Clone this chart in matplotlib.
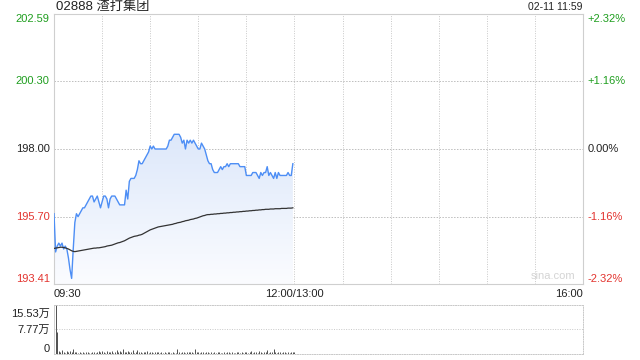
#!/usr/bin/env python3
"""Intraday time-share chart for 02888 (sina style) with volume panel"""

import numpy as np
import matplotlib
matplotlib.use('Agg')
import matplotlib.pyplot as plt

plt.rcParams['font.family'] = ['Liberation Sans', 'Noto Sans CJK SC', 'DejaVu Sans']

TITLE = '02888 渣打集团'
STAMP = '02-11 11:59'
PREV_CLOSE = 198.00

PRICE_TICKS = [193.41, 195.70, 198.00, 200.30, 202.59]
PCT_LABELS = ['-2.32%', '-1.16%', '0.00%', '+1.16%', '+2.32%']
TIME_LABELS = ['09:30', '12:00/13:00', '16:00']
TIME_POS = [0, 150, 330]  # minutes of trading
VOL_TICKS = [0, 7.77, 15.53]
VOL_LABELS = ['0', '7.77万', '15.53万']

# one value per trading minute from 09:30
PRICE = [
    195.8, 194.5, 194.7, 194.8, 194.7, 194.8, 194.6, 194.7, 194.6, 194.3,
    193.9, 193.6, 194.6, 195.5, 195.8, 195.7, 195.8, 195.9, 196.0, 196.0,
    196.1, 196.2, 196.3, 196.4, 196.4, 196.2, 196.3, 196.4, 196.2, 196.0,
    196.2, 196.4, 196.4, 196.3, 196.0, 196.3, 196.4, 196.4, 196.4, 196.3,
    196.2, 196.1, 196.1, 196.1, 196.1, 196.6, 196.3, 196.9, 197.0, 197.0,
    197.0, 197.1, 197.3, 197.6, 197.5, 197.5, 197.6, 197.7, 197.8, 197.9,
    198.1, 198.0, 198.1, 198.0, 198.0, 198.0, 198.0, 198.0, 198.0, 198.0,
    198.0, 198.1, 198.3, 198.3, 198.4, 198.5, 198.5, 198.5, 198.5, 198.4,
    198.2, 198.3, 198.0, 198.3, 198.2, 198.3, 198.2, 198.3, 198.2, 198.1,
    198.0, 198.0, 198.2, 198.1, 198.0, 197.8, 197.6, 197.5, 197.5, 197.3,
    197.2, 197.2, 197.2, 197.3, 197.4, 197.3, 197.4, 197.4, 197.5, 197.4,
    197.5, 197.5, 197.5, 197.5, 197.5, 197.5, 197.4, 197.4, 197.4, 197.4,
    197.1, 197.1, 197.1, 197.1, 197.2, 197.2, 197.2, 197.1, 197.0, 197.2,
    197.1, 197.2, 197.2, 197.4, 197.1, 197.2, 197.1, 197.0, 197.2, 197.0,
    197.2, 197.1, 197.1, 197.1, 197.1, 197.1, 197.2, 197.1, 197.1, 197.5,
]

AVG = [
    194.62, 194.63, 194.64, 194.65, 194.66, 194.66, 194.65, 194.64, 194.62, 194.60,
    194.57, 194.54, 194.52, 194.51, 194.52, 194.53, 194.54, 194.55, 194.56, 194.57,
    194.58, 194.59, 194.60, 194.61, 194.62, 194.63, 194.63, 194.64, 194.64, 194.65,
    194.66, 194.67, 194.68, 194.70, 194.71, 194.72, 194.73, 194.75, 194.77, 194.79,
    194.81, 194.82, 194.84, 194.86, 194.88, 194.91, 194.94, 194.97, 194.99, 195.01,
    195.03, 195.04, 195.05, 195.07, 195.08, 195.10, 195.13, 195.16, 195.19, 195.22,
    195.25, 195.27, 195.29, 195.31, 195.33, 195.35, 195.36, 195.37, 195.38, 195.39,
    195.40, 195.41, 195.42, 195.43, 195.44, 195.46, 195.47, 195.49, 195.50, 195.51,
    195.53, 195.54, 195.56, 195.57, 195.58, 195.60, 195.61, 195.62, 195.64, 195.65,
    195.67, 195.69, 195.71, 195.73, 195.74, 195.76, 195.77, 195.77, 195.78, 195.78,
    195.79, 195.79, 195.80, 195.80, 195.81, 195.81, 195.82, 195.82, 195.83, 195.83,
    195.84, 195.84, 195.85, 195.85, 195.86, 195.86, 195.87, 195.87, 195.88, 195.88,
    195.89, 195.89, 195.90, 195.90, 195.91, 195.91, 195.92, 195.92, 195.93, 195.93,
    195.94, 195.94, 195.95, 195.95, 195.95, 195.96, 195.96, 195.96, 195.97, 195.97,
    195.97, 195.97, 195.98, 195.98, 195.98, 195.98, 195.99, 195.99, 195.99, 196.00,
]

# volume in 万 shares
VOLUME = [
    15.53, 6.90, 0.9, 0.5, 1.4, 0.6, 0.4, 0.8, 0.5, 1.0,
    0.6, 1.5, 0.7, 0.5, 0.4, 0.6, 0.3, 0.5, 0.4, 0.6,
    0.5, 0.4, 0.3, 0.5, 0.6, 0.4, 0.5, 0.8, 0.5, 1.0,
    0.6, 0.4, 0.9, 0.7, 0.5, 1.1, 0.4, 0.6, 1.3, 0.5,
    0.8, 0.6, 1.6, 0.5, 0.7, 1.0, 0.6, 0.5, 1.3, 0.4,
    0.6, 1.2, 0.5, 0.7, 0.4, 0.6, 0.5, 0.9, 0.4, 0.6,
    0.5, 0.4, 0.7, 0.5, 0.6, 0.4, 0.5, 0.3, 0.6, 0.4,
    0.5, 0.6, 0.4, 0.5, 0.3, 0.4, 1.5, 0.5, 0.4, 0.6,
    0.5, 0.4, 0.7, 0.5, 0.6, 0.5, 0.4, 1.7, 0.6, 0.5,
    0.4, 0.6, 0.5, 0.4, 0.5, 0.6, 0.4, 0.5, 0.3, 0.5,
    0.4, 0.6, 0.5, 0.4, 0.3, 0.5, 0.4, 0.6, 0.5, 0.4,
    0.5, 0.4, 0.3, 0.5, 0.6, 0.4, 0.5, 0.4, 0.6, 0.5,
    0.4, 0.5, 0.8, 0.4, 0.5, 0.6, 0.4, 0.9, 0.5, 0.4,
    0.6, 0.5, 1.2, 0.4, 0.6, 0.5, 1.5, 0.6, 0.4, 0.5,
    0.6, 0.4, 0.5, 0.6, 0.4, 0.5, 0.4, 0.6, 0.5, 0.7,
]

GREEN = '#1f9e1f'
RED = '#e3342f'
LINE_BLUE = '#4d8ef5'
GRID = '#c8c8c8'
FRAME = '#cfcfcf'


def label_color(value):
    if value > PREV_CLOSE + 1e-9:
        return GREEN
    if value < PREV_CLOSE - 1e-9:
        return RED
    return '#222222'


fig = plt.figure(figsize=(6.4, 3.6), dpi=100)
ax = fig.add_axes([54 / 640, 1 - 284 / 360, 529 / 640, 270 / 360])
vax = fig.add_axes([54 / 640, 1 - 354 / 360, 529 / 640, 49 / 360])

minutes = np.arange(len(PRICE))
ymin, ymax = PRICE_TICKS[0], PRICE_TICKS[-1]

# gradient fill under the price line
poly = ax.fill_between(minutes, PRICE, ymin, color='none', lw=0)
grad = np.linspace(0, 1, 256).reshape(-1, 1)
cmap = matplotlib.colors.LinearSegmentedColormap.from_list('fill', ['#fbfcff', '#dde8fa'])
img = ax.imshow(grad, cmap=cmap, aspect='auto', origin='lower',
                extent=[0, len(PRICE) - 1, ymin, max(PRICE)], zorder=1)
img.set_clip_path(poly.get_paths()[0], transform=ax.transData)

ax.plot(minutes, PRICE, color=LINE_BLUE, lw=1.0, zorder=3)
ax.plot(minutes, AVG, color='#333333', lw=0.9, zorder=3)

ax.set_xlim(0, 330)
ax.set_ylim(ymin, ymax)

for m in range(30, 330, 30):
    ax.axvline(m, color=GRID, lw=0.7, ls=(0, (1, 1.5)), zorder=0)
for v in PRICE_TICKS[1:-1]:
    ax.axhline(v, color='#bdbdbd', lw=0.7, ls=(0, (1.5, 1.5)), zorder=0)

ax.set_xticks([])
ax.set_yticks([])
for spine in ax.spines.values():
    spine.set_color(FRAME)
    spine.set_linewidth(0.8)

# price and percent labels
n = len(PRICE_TICKS)
for i, (val, pct) in enumerate(zip(PRICE_TICKS, PCT_LABELS)):
    va = 'center'
    if i == 0:
        va = 'bottom'
    elif i == n - 1:
        va = 'top'
    col = label_color(val)
    ax.text(-0.008, val, f'{val:.2f}', transform=ax.get_yaxis_transform(),
            ha='right', va=va, fontsize=8, color=col)
    ax.text(1.009, val, pct, transform=ax.get_yaxis_transform(),
            ha='left', va=va, fontsize=8, color=col)

ax.text(0.004, 1.027, TITLE, transform=ax.transAxes, ha='left', va='center',
        fontsize=9.5, color='#222222')
ax.text(1.0, 1.027, STAMP, transform=ax.transAxes, ha='right', va='center',
        fontsize=7.5, color='#222222')
ax.text(0.985, 0.012, 'sina.com', transform=ax.transAxes, ha='right', va='bottom',
        fontsize=8, color='#d4d4d4')

# time labels below main panel
aligns = ['left', 'center', 'right']
for pos, txt, ha in zip(TIME_POS, TIME_LABELS, aligns):
    ax.text(pos, -0.018, txt, transform=ax.get_xaxis_transform(),
            ha=ha, va='top', fontsize=8, color='#222222')

# volume panel: bars sit at the end of each minute
vax.vlines(minutes + 1, 0, VOLUME, color='#333333', lw=0.6)
vax.set_xlim(0, 330)
vax.set_ylim(0, VOL_TICKS[-1])
vax.axhline(VOL_TICKS[1], color=GRID, lw=0.7, ls=(0, (1, 1.5)))
vax.set_xticks([])
vax.set_yticks([])
for spine in vax.spines.values():
    spine.set_color(GRID)
    spine.set_linewidth(0.7)
    spine.set_linestyle((0, (1, 1.5)))
vax.spines['left'].set_linestyle('-')
vax.spines['left'].set_color(FRAME)

for i, (val, lab) in enumerate(zip(VOL_TICKS, VOL_LABELS)):
    va = 'center'
    offset = 0
    if i == 0:
        va = 'bottom'
    elif i == len(VOL_TICKS) - 1:
        va = 'top'
        offset = -2.5
    vax.annotate(lab, (-0.008, val), xycoords=vax.get_yaxis_transform(),
                 xytext=(0, offset), textcoords='offset points',
                 ha='right', va=va, fontsize=8, color='#222222')

fig.savefig('out.png', dpi=100)
